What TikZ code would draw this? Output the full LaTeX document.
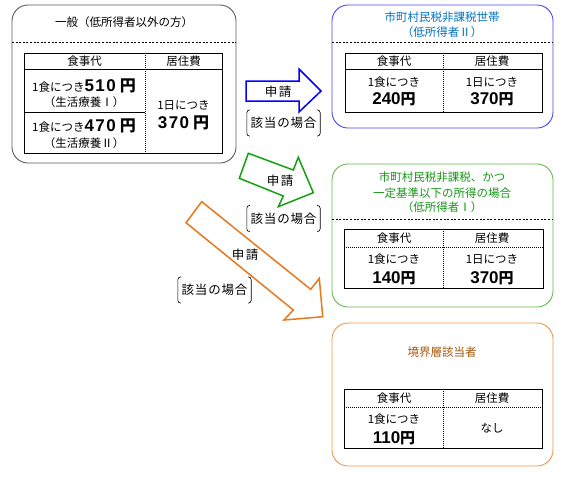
\documentclass[tikz,border=0pt]{standalone}
\usepackage{fontspec}
\setmainfont{Noto Sans CJK JP}
\newfontfamily\numf{Liberation Sans}
\definecolor{boxgray}{RGB}{90,90,90}
\definecolor{boxblue}{RGB}{70,70,245}
\definecolor{boxgreen}{RGB}{100,185,80}
\definecolor{boxorange}{RGB}{238,150,75}
\definecolor{tblue}{RGB}{0,112,192}
\definecolor{tgreen}{RGB}{20,150,20}
\definecolor{tbrown}{RGB}{165,85,10}
\definecolor{arblue}{RGB}{0,0,255}
\definecolor{argreen}{RGB}{20,160,20}
\definecolor{arorange}{RGB}{232,120,30}
\newcommand{\bn}[1]{{\numf\bfseries\fontsize{17}{17}\selectfont #1}}
\newcommand{\yen}[1][15]{{\bfseries\fontsize{#1}{#1}\selectfont 円}}
\begin{document}
\begin{tikzpicture}[x=1pt,y=-1pt,
  txt/.style={font=\fontsize{11.5}{14}\selectfont, inner sep=0pt, align=center},
  lbl/.style={font=\fontsize{12.5}{14}\selectfont, inner sep=0pt},
  bracketlbl/.style={font=\fontsize{12.5}{14}\selectfont, inner sep=0pt, minimum width=73pt, minimum height=26pt},
  bigbox/.style={line width=0.9pt, rounded corners=16pt},
  sepline/.style={line width=0.8pt, dash pattern=on 2pt off 1.6pt},
  tbl/.style={draw=black, line width=0.8pt},
  dotline/.style={line width=0.8pt, dash pattern=on 1pt off 1pt},
  arrowshape/.style={line width=1.5pt, line join=miter, fill=white},
  brk/.style={line width=0.6pt, rounded corners=3pt}
]
\useasboundingbox (0,0) rectangle (567,491);

% ---------- Box 1 ----------
\draw[bigbox, draw=boxgray] (12,5) rectangle (236,163);
\node[txt] (b1t) at (124,22) {一般（低所得者以外の方）};
\draw[sepline] (12,42) -- (236,42);
\draw[tbl] (24,53) rectangle (222,153);
\draw[tbl] (24,69) -- (222,69);
\draw[tbl] (24,112) -- (145,112);
\draw[dotline] (145,53) -- (145,153);
\node[txt] (b1h1) at (84.5,61) {食事代};
\node[txt] (b1h2) at (183.5,61) {居住費};
\node[txt, anchor=base] (b1r1) at (84,91) {1食につき\bn{5\kern1.5pt1\kern1.5pt0\kern4pt}\yen[16]};
\node[txt] (b1r1b) at (84,102) {（生活療養Ⅰ）};
\node[txt, anchor=base] (b1r2) at (84,131) {1食につき\bn{4\kern1.5pt7\kern1.5pt0\kern4pt}\yen[16]};
\node[txt] (b1r2b) at (84,143) {（生活療養Ⅱ）};
\node[txt] (b1c1) at (183.5,105) {1日につき};
\node[txt, anchor=base] (b1c2) at (183.5,128) {\bn{3\kern1.5pt7\kern1.5pt0\kern4pt}\yen[16]};

% ---------- Box 2 ----------
\draw[bigbox, draw=boxblue] (332,5) rectangle (553,128);
\node[txt, text=tblue] (b2t1) at (442,17) {市町村民税非課税世帯};
\node[txt, text=tblue] (b2t2) at (442,32) {（低所得者Ⅱ）};
\draw[sepline] (332,42) -- (553,42);
\draw[tbl] (345,53) rectangle (542,112);
\draw[tbl] (345,69) -- (542,69);
\draw[dotline] (443,53) -- (443,112);
\node[txt] (b2h1) at (394,61) {食事代};
\node[txt] (b2h2) at (492,61) {居住費};
\node[txt] (b2a1) at (394,82) {1食につき};
\node[txt, anchor=base] (b2a2) at (394,104) {\bn{240}\yen};
\node[txt] (b2c1) at (492,82) {1日につき};
\node[txt, anchor=base] (b2c2) at (492,104) {\bn{370}\yen};

% ---------- Box 3 ----------
\draw[bigbox, draw=boxgreen] (332,164) rectangle (553,307);
\node[txt, text=tgreen] (b3t1) at (442,177) {市町村民税非課税、かつ};
\node[txt, text=tgreen] (b3t2) at (442,193) {一定基準以下の所得の場合};
\node[txt, text=tgreen] (b3t3) at (442,207) {（低所得者Ⅰ）};
\draw[sepline] (332,219) -- (553,219);
\draw[tbl] (344,229) rectangle (543,288);
\draw[dotline] (344,247) -- (543,247);
\draw[dotline] (443,229) -- (443,288);
\node[txt] (b3h1) at (394,238) {食事代};
\node[txt] (b3h2) at (492,238) {居住費};
\node[txt] (b3a1) at (394,259) {1食につき};
\node[txt, anchor=base] (b3a2) at (394,283) {\bn{140}\yen};
\node[txt] (b3c1) at (492,259) {1日につき};
\node[txt, anchor=base] (b3c2) at (492,283) {\bn{370}\yen};

% ---------- Box 4 ----------
\draw[bigbox, draw=boxorange] (332,323) rectangle (553,466);
\node[txt, text=tbrown] (b4t) at (442,352) {境界層該当者};
\draw[tbl] (344,389) rectangle (542,448);
\draw[dotline] (344,407) -- (542,407);
\draw[dotline] (443,389) -- (443,448);
\node[txt] (b4h1) at (394,398) {食事代};
\node[txt] (b4h2) at (492,398) {居住費};
\node[txt] (b4a1) at (394,419) {1食につき};
\node[txt, anchor=base] (b4a2) at (394,443) {\bn{110}\yen};
\node[txt] (b4c1) at (492,428) {なし};

% ---------- Arrows ----------
\draw[arrowshape, draw=arblue] (246,81) -- (299,81) -- (299,69) -- (321,91) -- (299,112) -- (299,101) -- (246,101) -- cycle;
\node[lbl] (a1) at (278,92) {申\kern1.5pt請};

\draw[arrowshape, draw=argreen] (248.3,153.3) -- (293.3,170) -- (298.3,157.3) -- (313.3,192.7) -- (278.3,206.7) -- (283.3,196) -- (239.3,178.3) -- cycle;
\node[lbl] (a2) at (280,181) {申\kern1.5pt請};

\draw[arrowshape, draw=arorange] (201.7,201.7) -- (310.7,289.3) -- (319.3,278.3) -- (322.7,316.7) -- (284,320) -- (293.3,310) -- (186,222.7) -- cycle;
\node[lbl] (a3) at (245,255) {申\kern1.5pt請};

% ---------- Bracket labels ----------
\foreach \n/\p in {l1/{(283.5,123)}, l2/{(283.5,218.5)}, l3/{(214.5,290)}} {
  \node[bracketlbl] (\n) at \p {該\kern0.8pt当\kern0.8pt の\kern0.8pt場\kern0.8pt合};
  \draw[brk] ([xshift=3pt]\n.north west) -- (\n.north west) -- (\n.south west) -- ([xshift=3pt]\n.south west);
  \draw[brk] ([xshift=-3pt]\n.north east) -- (\n.north east) -- (\n.south east) -- ([xshift=-3pt]\n.south east);
}
\end{tikzpicture}
\end{document}
